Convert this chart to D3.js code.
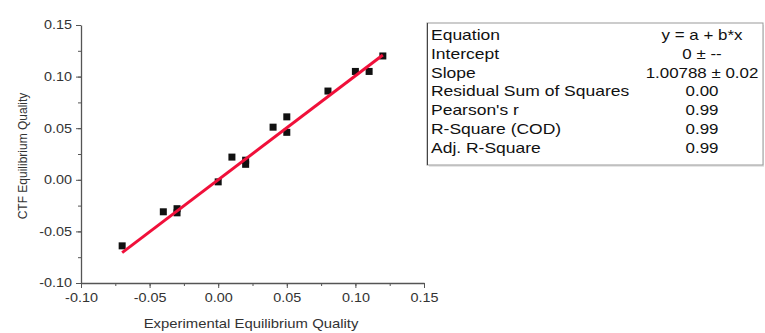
<!doctype html>
<html>
<head>
  <meta charset="utf-8">
  <title>CTF vs experimental equilibrium quality</title>
  <script src="https://cdnjs.cloudflare.com/ajax/libs/d3/7.8.5/d3.min.js"></script>
  <style>
    body { margin: 0; background: #fff; }
    svg text { font-family: Arial, "Liberation Sans", sans-serif; }
  </style>
</head>
<body>
  <div id="chart"></div>
  <script>
    // measured points (experimental, CTF)
    const expQuality = [-0.07, -0.04, -0.03, -0.03, 0.00, 0.01, 0.02, 0.02, 0.04, 0.05, 0.05, 0.08, 0.10, 0.11, 0.12];
    const ctfQuality = [-0.064, -0.031, -0.028, -0.032, -0.002, 0.022, 0.019, 0.015, 0.051, 0.061, 0.046, 0.086, 0.105, 0.105, 0.120];

    const xTicks = [-0.10, -0.05, 0.00, 0.05, 0.10, 0.15];
    const yTicks = [-0.10, -0.05, 0.00, 0.05, 0.10, 0.15];

    // linear fit through origin
    const slope = 1.00788;
    const fitLabels = ["Equation", "Intercept", "Slope", "Residual Sum of Squares", "Pearson's r", "R-Square (COD)", "Adj. R-Square"];
    const fitValues = ["y = a + b*x", "0 \u00b1 --", "1.00788 \u00b1 0.02", "0.00", "0.99", "0.99", "0.99"];

    const width = 765, height = 333;
    // the original picture is stretched sideways a bit
    const sx = 1.2;

    const svg = d3.select('#chart').append('svg')
      .attr('width', width)
      .attr('height', height);

    const x = d3.scaleLinear().domain([-0.10, 0.15]).range([81, 424]);
    const y = d3.scaleLinear().domain([-0.10, 0.15]).range([283, 25]);

    // plain hyphen for negatives, like the original
    const fmt = d => d3.format('.2f')(d).replace('\u2212', '-');
    const minor = d3.range(-0.10, 0.1501, 0.025);

    // minor ticks
    svg.append('g')
      .attr('transform', 'translate(0,283)')
      .call(d3.axisBottom(x).tickValues(minor).tickSize(3).tickFormat(''))
      .call(g => g.select('.domain').remove())
      .selectAll('line').attr('stroke', '#555');
    svg.append('g')
      .attr('transform', 'translate(81,0)')
      .call(d3.axisLeft(y).tickValues(minor).tickSize(3).tickFormat(''))
      .call(g => g.select('.domain').remove())
      .selectAll('line').attr('stroke', '#555');

    // major axes
    const xAxis = svg.append('g')
      .attr('transform', 'translate(0,283)')
      .call(d3.axisBottom(x).tickValues(xTicks).tickSize(5).tickSizeOuter(0).tickFormat(fmt));
    const yAxis = svg.append('g')
      .attr('transform', 'translate(81,0)')
      .call(d3.axisLeft(y).tickValues(yTicks).tickSize(5).tickSizeOuter(0).tickFormat(fmt));

    [xAxis, yAxis].forEach(g => {
      g.select('.domain').attr('stroke', '#555').attr('stroke-width', 1.3);
      g.selectAll('line').attr('stroke', '#555');
      g.selectAll('text').attr('fill', '#333').style('font-size', '12px')
        .attr('transform', `scale(${sx},1)`);
    });
    xAxis.selectAll('text').attr('dy', '0.95em');
    yAxis.selectAll('text').attr('x', -9 / sx);

    // axis titles
    svg.append('text')
      .attr('transform', `translate(251,328) scale(${sx + 0.04},1)`)
      .attr('text-anchor', 'middle')
      .attr('fill', '#333')
      .style('font-size', '12px')
      .text('Experimental Equilibrium Quality');
    svg.append('text')
      .attr('transform', 'translate(27,156) rotate(-90)')
      .attr('text-anchor', 'middle')
      .attr('fill', '#333')
      .style('font-size', '12px')
      .text('CTF Equilibrium Quality');

    // data points
    const pts = expQuality.map((d, i) => ({ x: d, y: ctfQuality[i] }));
    svg.append('g').selectAll('rect')
      .data(pts)
      .join('rect')
      .attr('x', d => x(d.x) - 3.5)
      .attr('y', d => y(d.y) - 3.5)
      .attr('width', 7)
      .attr('height', 7)
      .attr('fill', '#111');

    // fit line
    const xr = d3.extent(expQuality);
    svg.append('line')
      .attr('x1', x(xr[0])).attr('y1', y(slope * xr[0]))
      .attr('x2', x(xr[1])).attr('y2', y(slope * xr[1]))
      .attr('stroke', '#f0103a')
      .attr('stroke-width', 3);

    // fit table
    const tbl = svg.append('g');
    tbl.append('rect')
      .attr('x', 429).attr('y', 25)
      .attr('width', 335).attr('height', 142)
      .attr('fill', '#e6e6e6');
    tbl.append('rect')
      .attr('x', 427).attr('y', 23)
      .attr('width', 336).attr('height', 142)
      .attr('fill', '#fff')
      .attr('stroke', '#999')
      .attr('stroke-width', 1);
    tbl.append('line')
      .attr('x1', 427.5).attr('x2', 427.5)
      .attr('y1', 23).attr('y2', 165)
      .attr('stroke', '#444');

    const row = d3.scaleBand().domain(d3.range(fitLabels.length)).range([25.6, 157.2]);
    tbl.selectAll('text.lbl')
      .data(fitLabels)
      .join('text')
      .attr('class', 'lbl')
      .attr('transform', (d, i) => `translate(431,${row(i) + row.bandwidth() / 2}) scale(1.25,1)`)
      .attr('dy', '0.35em')
      .attr('fill', '#111')
      .style('font-size', '14px')
      .text(d => d);
    tbl.selectAll('text.val')
      .data(fitValues)
      .join('text')
      .attr('class', 'val')
      .attr('transform', (d, i) => `translate(702,${row(i) + row.bandwidth() / 2}) scale(1.21,1)`)
      .attr('dy', '0.35em')
      .attr('text-anchor', 'middle')
      .attr('fill', '#111')
      .style('font-size', '14px')
      .text(d => d);
  </script>
</body>
</html>
